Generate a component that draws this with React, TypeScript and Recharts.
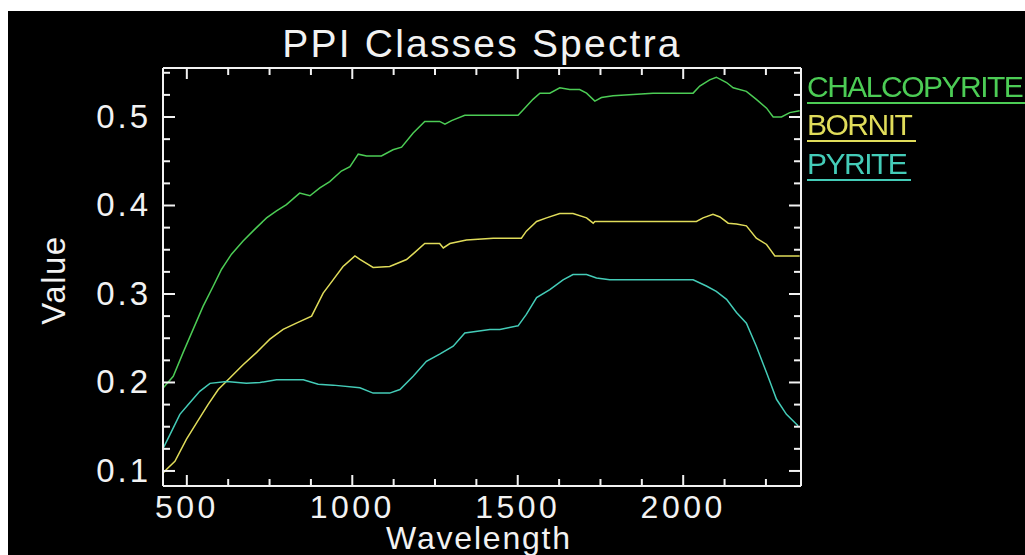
import React from 'react';
import { LineChart, Line, XAxis, YAxis, Legend, Customized } from 'recharts';

// ---------- data ----------
const chalcopyriteWavelengths = [429, 459, 489, 519, 549, 580, 605, 635, 670, 705, 741, 771, 801, 841, 872, 902, 932, 967, 993, 1018, 1043, 1088, 1123, 1149, 1184, 1219, 1264, 1280, 1300, 1340, 1416, 1501, 1516, 1546, 1567, 1597, 1627, 1657, 1687, 1708, 1733, 1753, 1788, 1909, 2030, 2050, 2080, 2100, 2131, 2151, 2191, 2221, 2252, 2272, 2297, 2322, 2352];
const chalcopyriteValues = [0.194, 0.207, 0.234, 0.26, 0.286, 0.309, 0.328, 0.345, 0.36, 0.373, 0.386, 0.394, 0.401, 0.414, 0.411, 0.42, 0.427, 0.439, 0.444, 0.458, 0.456, 0.456, 0.463, 0.466, 0.482, 0.495, 0.495, 0.492, 0.496, 0.502, 0.502, 0.502, 0.508, 0.52, 0.527, 0.527, 0.533, 0.531, 0.531, 0.527, 0.518, 0.522, 0.524, 0.527, 0.527, 0.535, 0.542, 0.545, 0.539, 0.533, 0.529, 0.52, 0.51, 0.5, 0.5, 0.505, 0.507];

const bornitWavelengths = [429, 439, 464, 499, 529, 564, 595, 630, 670, 711, 751, 791, 831, 877, 912, 942, 972, 1008, 1023, 1063, 1113, 1164, 1189, 1219, 1264, 1275, 1295, 1345, 1426, 1511, 1526, 1557, 1587, 1627, 1667, 1708, 1728, 1733, 2040, 2060, 2090, 2111, 2136, 2161, 2191, 2221, 2252, 2277, 2352];
const bornitValues = [0.098, 0.102, 0.111, 0.136, 0.154, 0.175, 0.192, 0.205, 0.22, 0.234, 0.249, 0.26, 0.267, 0.275, 0.301, 0.316, 0.331, 0.343, 0.339, 0.33, 0.331, 0.339, 0.347, 0.357, 0.357, 0.352, 0.357, 0.361, 0.363, 0.363, 0.371, 0.382, 0.386, 0.391, 0.391, 0.386, 0.38, 0.382, 0.382, 0.386, 0.39, 0.387, 0.38, 0.379, 0.377, 0.363, 0.356, 0.343, 0.343];

const pyriteWavelengths = [429, 449, 479, 509, 539, 570, 620, 680, 721, 771, 852, 897, 942, 1023, 1063, 1113, 1144, 1184, 1224, 1264, 1305, 1340, 1416, 1446, 1501, 1526, 1557, 1597, 1637, 1667, 1708, 1738, 1778, 2030, 2070, 2100, 2131, 2161, 2191, 2221, 2252, 2282, 2312, 2347];
const pyriteValues = [0.126, 0.141, 0.164, 0.177, 0.19, 0.199, 0.201, 0.199, 0.2, 0.203, 0.203, 0.198, 0.197, 0.194, 0.188, 0.188, 0.192, 0.207, 0.224, 0.232, 0.241, 0.256, 0.26, 0.26, 0.264, 0.277, 0.296, 0.305, 0.316, 0.322, 0.322, 0.318, 0.316, 0.316, 0.309, 0.303, 0.294, 0.279, 0.267, 0.241, 0.211, 0.181, 0.164, 0.151];

const seriesNames = ['CHALCOPYRITE', 'BORNIT', 'PYRITE'];
const seriesColors = ['#4ccc55', '#e0dc5a', '#44ccb8'];

const xMajorTicks = [500, 1000, 1500, 2000];
const xMinorTicks = [625, 750, 875, 1125, 1250, 1375, 1625, 1750, 1875, 2125, 2250];
const yMajorTicks = [0.1, 0.2, 0.3, 0.4, 0.5];
const yMinorTicks = [0.125, 0.15, 0.175, 0.225, 0.25, 0.275, 0.325, 0.35, 0.375, 0.425, 0.45, 0.475, 0.525, 0.55];
const xDomain: [number, number] = [428, 2356];
const yDomain: [number, number] = [0.083, 0.5554];

const titleText = 'PPI Classes Spectra';
const xLabelText = 'Wavelength';
const yLabelText = 'Value';

// ---------- layout / style ----------
const W = 1017;
const H = 544;
const PLOT = { left: 155, top: 57, right: 793, bottom: 475 };
const FONT = '"Liberation Sans", Arial, sans-serif';
const WHITE = '#f2f2f2';
const axisStroke = { stroke: WHITE, strokeWidth: 2 };
const MAJOR_X = 11, MINOR_X = 7, MAJOR_Y = 12, MINOR_Y = 7;

const xAllTicks = [...xMajorTicks, ...xMinorTicks].sort((a, b) => a - b);
const yAllTicks = [...yMajorTicks, ...yMinorTicks].sort((a, b) => a - b);
const isMajor = (list: number[], v: number) => list.some((m) => Math.abs(m - v) < 1e-9);

const toPoints = (wl: number[], vals: number[]) => wl.map((w, i) => ({ wl: w, v: vals[i] }));
const seriesData = [
  toPoints(chalcopyriteWavelengths, chalcopyriteValues),
  toPoints(bornitWavelengths, bornitValues),
  toPoints(pyriteWavelengths, pyriteValues),
];

const BottomTick = (props: any) => {
  const v = props.payload.value;
  const major = isMajor(xMajorTicks, v);
  return (
    <g>
      <line x1={props.x} x2={props.x} y1={PLOT.bottom} y2={PLOT.bottom - (major ? MAJOR_X : MINOR_X)} stroke={WHITE} strokeWidth={2} />
      {major && (
        <text x={props.x} y={PLOT.bottom + 9} dy="0.71em" textAnchor="middle" fill={WHITE}
          fontFamily={FONT} fontSize={32} style={{ letterSpacing: '3.5px' }}>{String(v)}</text>
      )}
    </g>
  );
};

const TopTick = (props: any) => {
  const major = isMajor(xMajorTicks, props.payload.value);
  return <line x1={props.x} x2={props.x} y1={PLOT.top} y2={PLOT.top + (major ? MAJOR_X : MINOR_X)} stroke={WHITE} strokeWidth={2} />;
};

const LeftTick = (props: any) => {
  const v = props.payload.value;
  const major = isMajor(yMajorTicks, v);
  return (
    <g>
      <line x1={PLOT.left} x2={PLOT.left + (major ? MAJOR_Y : MINOR_Y)} y1={props.y} y2={props.y} stroke={WHITE} strokeWidth={2} />
      {major && (
        <text x={143} y={props.y} dy="0.32em" textAnchor="end" fill={WHITE}
          fontFamily={FONT} fontSize={33} style={{ letterSpacing: '3px' }}>{Number(v).toFixed(1)}</text>
      )}
    </g>
  );
};

const RightTick = (props: any) => {
  const major = isMajor(yMajorTicks, props.payload.value);
  return <line x1={PLOT.right} x2={PLOT.right - (major ? MAJOR_Y : MINOR_Y)} y1={props.y} y2={props.y} stroke={WHITE} strokeWidth={2} />;
};

const Titles = () => (
  <g>
    <text x={(PLOT.left + PLOT.right) / 2} y={46} textAnchor="middle" fill={WHITE}
      fontFamily={FONT} fontSize={39} style={{ letterSpacing: '2.2px' }}>{titleText}</text>
    <text x={471} y={538} textAnchor="middle" fill={WHITE}
      fontFamily={FONT} fontSize={32} style={{ letterSpacing: '1.8px' }}>{xLabelText}</text>
    <text x={57} y={269} textAnchor="middle" fill={WHITE} transform="rotate(-90, 57, 269)"
      fontFamily={FONT} fontSize={33} style={{ letterSpacing: '1.5px' }}>{yLabelText}</text>
  </g>
);

const renderLegend = () => (
  <div style={{ fontFamily: FONT, fontSize: 30, letterSpacing: '-1.5px', whiteSpace: 'nowrap' }}>
    {seriesNames.map((name, i) => (
      <div key={name} style={{ height: 38.3 }}>
        <span style={{
          display: 'block', width: 'fit-content', lineHeight: '30px', height: 30,
          color: seriesColors[i], borderBottom: `2px solid ${seriesColors[i]}`, paddingRight: 5,
        }}>{name}</span>
      </div>
    ))}
  </div>
);

export default function App() {
  return (
    <div style={{ position: 'fixed', left: 8, top: 11, width: W, height: H, background: '#000' }}>
      <LineChart
        width={W}
        height={H}
        margin={{ top: PLOT.top - 1, right: W - PLOT.right - 1, bottom: H - PLOT.bottom - 1, left: PLOT.left - 1 }}
        style={{ background: '#000' }}
      >
        <XAxis xAxisId="main" orientation="bottom" type="number" dataKey="wl" domain={xDomain} allowDataOverflow
          ticks={xAllTicks} interval={0} height={1} tickSize={0} tickLine={false}
          axisLine={axisStroke} tick={<BottomTick />} />
        <XAxis xAxisId="top" orientation="top" type="number" dataKey="wl" domain={xDomain} allowDataOverflow
          ticks={xAllTicks} interval={0} height={1} tickSize={0} tickLine={false}
          axisLine={axisStroke} tick={<TopTick />} />
        <YAxis yAxisId="main" orientation="left" type="number" dataKey="v" domain={yDomain} allowDataOverflow
          ticks={yAllTicks} interval={0} width={1} tickSize={0} tickLine={false}
          axisLine={axisStroke} tick={<LeftTick />} />
        <YAxis yAxisId="right" orientation="right" type="number" dataKey="v" domain={yDomain} allowDataOverflow
          ticks={yAllTicks} interval={0} width={1} tickSize={0} tickLine={false}
          axisLine={axisStroke} tick={<RightTick />} />

        {seriesData.map((d, i) => (
          <Line key={seriesNames[i]} xAxisId="main" yAxisId="main" data={d} dataKey="v" name={seriesNames[i]}
            type="linear" stroke={seriesColors[i]} strokeWidth={1.5} dot={false} activeDot={false}
            isAnimationActive={false} />
        ))}

        <Legend layout="horizontal" align="center" verticalAlign="middle" content={renderLegend}
          wrapperStyle={{ left: 799, top: 61, width: 230, height: 120 }} />
        <Customized component={Titles} />
      </LineChart>
    </div>
  );
}
